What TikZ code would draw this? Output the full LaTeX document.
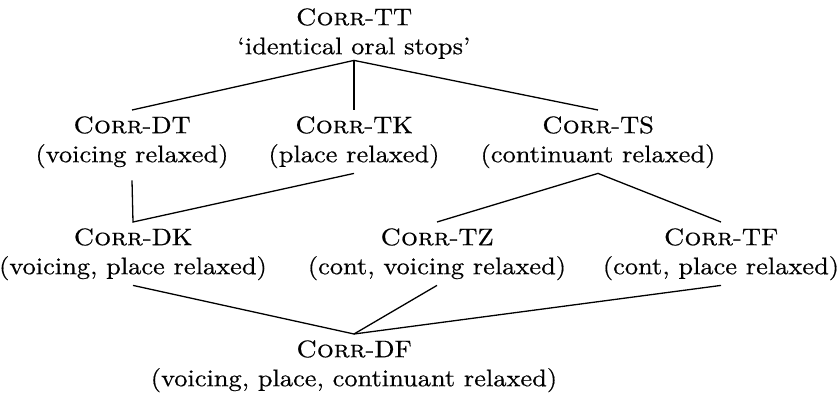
\documentclass[tikz,border=0pt]{standalone}
\usepackage{fontspec}
% Latin Modern, widened and darkened a little; real small caps from the Caps face
\setmainfont{lmroman10-regular.otf}[
  FakeStretch=1.1, FakeBold=0.5,
  SmallCapsFont=lmromancaps10-regular.otf,
  SmallCapsFeatures={FakeStretch=1.1, FakeBold=0.5}]
\begin{document}
% struts: fixed height above the first baseline and depth below the last one,
% so that every label's north/south anchors sit at the same distance from its text
\newcommand\capstrut{\rule{0pt}{23pt}}
\newcommand\descstrut[1][11pt]{\rule[-#1]{0pt}{#1}}
\tikzset{
  lattice/.style={align=center, inner sep=0pt, anchor=north,
    font=\fontsize{24}{29}\selectfont},
  edge/.style={line width=1.3pt}
}
\begin{tikzpicture}[x=1pt, y=-1pt]
  \useasboundingbox (0,0) rectangle (839,397);

  % top element
  \node[lattice] (tt) at (354,2)   {\capstrut\textsc{Corr}-TT\\`identical oral stops'\descstrut[6pt]};

  % one feature relaxed
  \node[lattice] (dt) at (132,110) {\capstrut\textsc{Corr}-DT\\(voicing relaxed)\descstrut};
  \node[lattice] (tk) at (354,110) {\capstrut\textsc{Corr}-TK\\(place relaxed)\descstrut};
  \node[lattice] (ts) at (598,110) {\capstrut\textsc{Corr}-TS\\(continuant relaxed)\descstrut};

  % two features relaxed
  \node[lattice] (dk) at (133,222) {\capstrut\textsc{Corr}-DK\\(voicing, place relaxed)\descstrut};
  \node[lattice] (tz) at (437,222) {\capstrut\textsc{Corr}-TZ\\(cont, voicing relaxed)\descstrut};
  \node[lattice] (tf) at (721,222) {\capstrut\textsc{Corr}-TF\\(cont, place relaxed)\descstrut};

  % bottom element
  \node[lattice] (df) at (354,334) {\capstrut\textsc{Corr}-DF\\(voicing, place, continuant relaxed)\descstrut};

  % connectors
  \draw[edge] (dt.north) -- (tt.south) -- (ts.north);
  \draw[edge] (tt.south) -- (tk.north);
  \draw[edge] ([yshift=-7pt]dt.south) -- (dk.north) -- (tk.south);
  \draw[edge] (tz.north) -- (ts.south) -- (tf.north);
  \draw[edge] (dk.south) -- (df.north) -- (tz.south);
  \draw[edge] (df.north) -- (tf.south);
\end{tikzpicture}
\end{document}
